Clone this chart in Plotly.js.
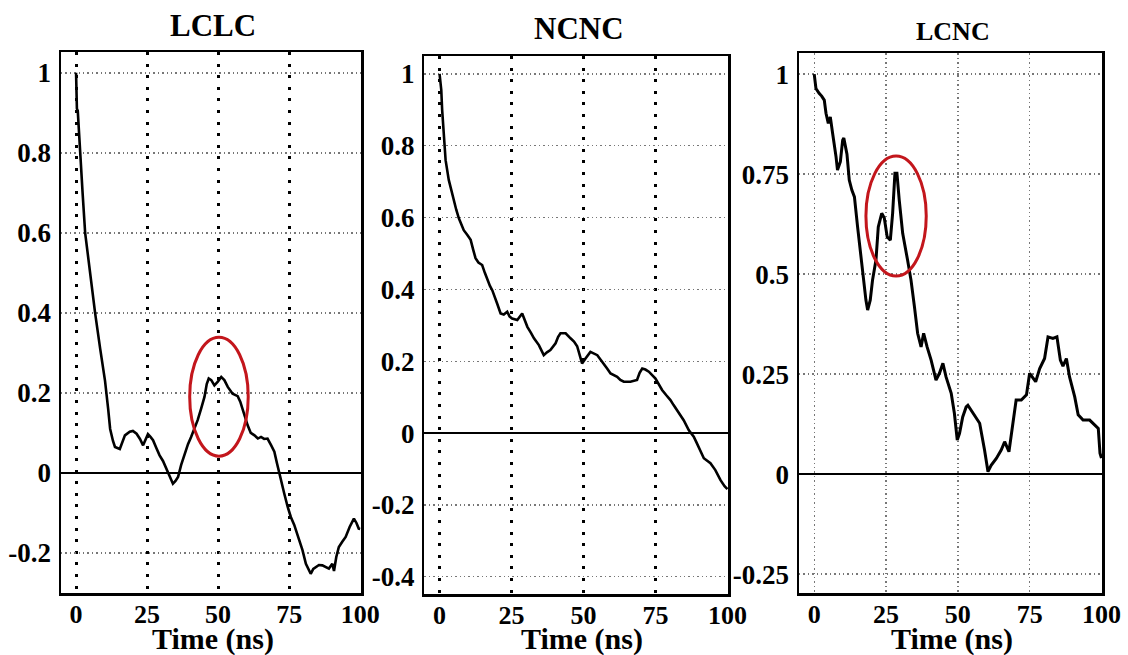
<!DOCTYPE html>
<html>
<head>
<meta charset="utf-8">
<script src="https://cdn.plot.ly/plotly-3.0.1.min.js"></script>
<style>
  html, body { margin: 0; padding: 0; background: #ffffff; }
  #chart { width: 1128px; height: 655px; }
</style>
</head>
<body>
<div id="chart"></div>
<script>
// ---------- data ----------
const panelTitles = ["LCLC", "NCNC", "LCNC"];
const xAxisTitle = "Time (ns)";

const xTickVals = [0, 25, 50, 75, 100];
const xTickText = ["0", "25", "50", "75", "100"];

const yTickVals1 = [1, 0.8, 0.6, 0.4, 0.2, 0, -0.2];
const yTickText1 = ["1", "0.8", "0.6", "0.4", "0.2", "0", "-0.2"];
const yTickVals2 = [1, 0.8, 0.6, 0.4, 0.2, 0, -0.2, -0.4];
const yTickText2 = ["1", "0.8", "0.6", "0.4", "0.2", "0", "-0.2", "-0.4"];
const yTickVals3 = [1, 0.75, 0.5, 0.25, 0, -0.25];
const yTickText3 = ["1", "0.75", "0.5", "0.25", "0", "-0.25"];

const lclcTime = [0, 0.3, 0.6, 1.4, 2.3, 3.2, 4.9, 6.7, 8.5, 10.2, 11.3, 12.0, 13.0, 13.7, 15.4, 16.3, 17.2, 18.9, 20.0, 21.3,
  22.5, 23.6, 24.5, 25.3, 26.2, 27.1, 28.3, 29.4, 30.6, 31.8, 33.0, 34.1, 35.0, 35.9, 37.0, 38.3, 39.4, 40.5, 41.7, 42.8,
  44.0, 45.2, 46.0, 46.7, 47.6, 48.7, 49.9, 51.1, 52.2, 53.4, 55.1, 56.9, 57.8, 58.7, 60.4, 61.5, 62.8, 64.0, 65.1, 66.2,
  67.4, 68.6, 69.8, 70.7, 71.5, 72.4, 73.3, 74.5, 75.6, 76.8, 77.9, 78.8, 79.7, 80.9, 81.7, 82.6, 83.5, 84.4, 85.5, 86.7,
  88.0, 89.0, 90.2, 90.8, 91.6, 92.5, 93.7, 94.9, 96.3, 97.8, 98.7, 99.5, 100];
const lclcValue = [1.0, 0.91, 0.905, 0.80, 0.70, 0.60, 0.50, 0.40, 0.31, 0.23, 0.16, 0.11, 0.08, 0.065, 0.06, 0.08, 0.094, 0.103, 0.105, 0.098,
  0.085, 0.069, 0.085, 0.097, 0.09, 0.082, 0.062, 0.044, 0.03, 0.011, -0.012, -0.027, -0.02, -0.01, 0.02, 0.049, 0.072, 0.09, 0.11, 0.132,
  0.16, 0.19, 0.222, 0.236, 0.232, 0.219, 0.228, 0.24, 0.232, 0.215, 0.198, 0.192, 0.178, 0.157, 0.119, 0.10, 0.094, 0.086, 0.09, 0.085,
  0.086, 0.07, 0.053, 0.025, 0.0, -0.028, -0.052, -0.085, -0.11, -0.13, -0.152, -0.175, -0.193, -0.227, -0.24, -0.252, -0.24, -0.235, -0.23, -0.231,
  -0.236, -0.239, -0.227, -0.245, -0.21, -0.185, -0.172, -0.16, -0.135, -0.114, -0.125, -0.139, -0.14];

const ncncTime = [0, 0.3, 0.6, 0.9, 1.1, 1.5, 2.1, 3.2, 4.1, 5.0, 5.8, 6.7, 7.5, 8.4, 9.6, 10.8, 11.7, 12.5, 13.5, 14.8,
  15.7, 16.6, 17.5, 18.3, 19.2, 20.0, 21.2, 22.3, 23.5, 24.3, 25.2, 27.0, 28.7, 29.5, 30.5, 31.7, 32.8, 34.5, 35.3, 36.2,
  37.3, 38.5, 40.3, 41.2, 42.0, 43.8, 45.5, 46.7, 47.8, 48.7, 49.5, 50.7, 52.4, 54.8, 56.0, 57.1, 58.2, 59.4, 61.7, 62.8,
  64.0, 66.3, 68.6, 69.5, 70.4, 71.5, 72.7, 75.0, 76.2, 77.3, 78.7, 80.2, 81.3, 82.5, 83.6, 84.8, 86.6, 88.3, 89.2, 90.0,
  91.8, 94.1, 95.8, 97.6, 99.0, 100];
const ncncValue = [1.0, 0.98, 0.955, 0.90, 0.872, 0.825, 0.76, 0.705, 0.675, 0.649, 0.622, 0.598, 0.58, 0.565, 0.552, 0.538, 0.51, 0.487, 0.475, 0.468,
  0.447, 0.426, 0.41, 0.398, 0.38, 0.361, 0.333, 0.33, 0.338, 0.325, 0.319, 0.315, 0.333, 0.315, 0.296, 0.28, 0.264, 0.245, 0.23, 0.217,
  0.225, 0.231, 0.25, 0.268, 0.278, 0.278, 0.264, 0.255, 0.242, 0.215, 0.194, 0.208, 0.226, 0.217, 0.205, 0.194, 0.18, 0.166, 0.157, 0.148,
  0.143, 0.143, 0.148, 0.168, 0.18, 0.177, 0.171, 0.152, 0.136, 0.12, 0.106, 0.092, 0.078, 0.064, 0.05, 0.036, 0.008, -0.01, -0.025, -0.038,
  -0.07, -0.084, -0.103, -0.131, -0.148, -0.156];

const lcncTime = [0, 0.6, 1.7, 2.6, 3.5, 4.1, 4.9, 5.6, 6.4, 7.0, 7.6, 8.1, 9.1, 9.9, 10.3, 11.4, 12.2, 13.1, 14.0, 15.1,
  16.3, 17.4, 18.0, 18.6, 19.5, 20.3, 21.5, 22.3, 23.5, 24.4, 25.4, 26.5, 27.3, 28.1, 28.8, 29.6, 30.8, 32.5, 33.7, 34.9,
  36.0, 37.2, 38.1, 39.3, 40.7, 42.4, 43.6, 44.8, 45.9, 47.7, 48.8, 49.8, 50.6, 51.7, 52.9, 53.5, 55.2, 57.6, 59.3, 60.5,
  61.6, 63.4, 65.1, 66.3, 67.8, 69.2, 70.3, 72.1, 73.9, 75.0, 77.1, 78.5, 80.2, 81.4, 83.1, 84.5, 85.7, 86.6, 87.8, 88.9,
  90.7, 91.9, 93.6, 95.9, 97.7, 98.9, 99.5, 100];
const lcncValue = [1.0, 0.964, 0.952, 0.945, 0.935, 0.902, 0.877, 0.893, 0.852, 0.825, 0.793, 0.76, 0.781, 0.835, 0.84, 0.80, 0.735, 0.71, 0.693, 0.618,
  0.535, 0.46, 0.435, 0.41, 0.435, 0.485, 0.535, 0.618, 0.652, 0.64, 0.593, 0.585, 0.652, 0.752, 0.752, 0.685, 0.602, 0.535, 0.485, 0.418,
  0.352, 0.318, 0.352, 0.318, 0.285, 0.235, 0.252, 0.277, 0.243, 0.202, 0.152, 0.085, 0.102, 0.143, 0.168, 0.172, 0.152, 0.127, 0.06, 0.006,
  0.022, 0.039, 0.06, 0.081, 0.056, 0.135, 0.185, 0.185, 0.198, 0.252, 0.231, 0.264, 0.289, 0.343, 0.339, 0.343, 0.285, 0.27, 0.289, 0.243,
  0.193, 0.148, 0.135, 0.135, 0.123, 0.114, 0.052, 0.04];

// highlighted regions (red ellipses): [x0, x1, y0, y1] in data units
const lclcHighlight = [40.0, 60.6, 0.042, 0.339];
const lcncHighlight = [18.0, 39.0, 0.495, 0.795];

// ---------- styling ----------
const serif = "'Liberation Serif', 'Times New Roman', Times, serif";
const curveColor = "#000000";
const ringColor = "#c3161c";

function xAxis(domain, anchor, bold) {
  return {
    domain: domain, anchor: anchor, range: [-5.3, 100.3],
    tickvals: xTickVals, ticktext: xTickText, ticks: "",
    tickfont: {family: serif, size: 26, color: "#000", weight: "bold"}, ticklabelstandoff: -4,
    showgrid: true, gridcolor: bold ? "#000" : "#777",
    gridwidth: bold ? 3 : 1.4, griddash: bold ? "3px,8.6px" : "1.4px,3px",
    zeroline: false, showline: true, mirror: true, linecolor: "#000", linewidth: 2.5,
    fixedrange: true
  };
}
function yAxis(domain, anchor, range, vals, text) {
  return {
    domain: domain, anchor: anchor, range: range,
    tickvals: vals, ticktext: text, ticks: "",
    tickfont: {family: serif, size: 27, color: "#000", weight: "bold"}, ticklabelstandoff: 2,
    showgrid: true, gridcolor: "#777", gridwidth: 1.4, griddash: "1.4px,3px",
    zeroline: true, zerolinecolor: "#000", zerolinewidth: 2,
    showline: true, mirror: true, linecolor: "#000", linewidth: 2.5,
    fixedrange: true
  };
}

const traces = [
  {x: lclcTime, y: lclcValue, xaxis: "x", yaxis: "y", type: "scatter", mode: "lines",
   line: {color: curveColor, width: 2.6}, hoverinfo: "skip"},
  {x: ncncTime, y: ncncValue, xaxis: "x2", yaxis: "y2", type: "scatter", mode: "lines",
   line: {color: curveColor, width: 2.6}, hoverinfo: "skip"},
  {x: lcncTime, y: lcncValue, xaxis: "x3", yaxis: "y3", type: "scatter", mode: "lines",
   line: {color: curveColor, width: 3}, hoverinfo: "skip"}
];

const W = 1128, H = 655;
const d1x = [61 / W, 361 / W], d1y = [1 - 593 / H, 1 - 52 / H];
const d2x = [424.3 / W, 728.3 / W], d2y = [1 - 594 / H, 1 - 56 / H];
const d3x = [799 / W, 1102.3 / W], d3y = [1 - 593.3 / H, 1 - 53.3 / H];

function ring(xr, yr, h) {
  return {type: "circle", xref: xr, yref: yr, x0: h[0], x1: h[1], y0: h[2], y1: h[3],
          line: {color: ringColor, width: 3}, layer: "above"};
}
function label(text, cx, cy, size) {
  return {text: text, xref: "paper", yref: "paper", x: cx / W, y: 1 - cy / H, showarrow: false,
          xanchor: "center", yanchor: "middle", borderpad: 0,
          font: {family: serif, size: size, color: "#000", weight: "bold"}};
}

const layout = {
  width: W, height: H,
  margin: {l: 0, r: 0, t: 0, b: 0},
  paper_bgcolor: "#ffffff", plot_bgcolor: "#ffffff",
  showlegend: false,
  xaxis: xAxis(d1x, "y", true),
  yaxis: yAxis(d1y, "x", [-0.30, 1.052], yTickVals1, yTickText1),
  xaxis2: xAxis(d2x, "y2", true),
  yaxis2: yAxis(d2y, "x2", [-0.448, 1.05], yTickVals2, yTickText2),
  xaxis3: xAxis(d3x, "y3", false),
  yaxis3: yAxis(d3y, "x3", [-0.298, 1.052], yTickVals3, yTickText3),
  shapes: [ring("x", "y", lclcHighlight), ring("x3", "y3", lcncHighlight)],
  annotations: [
    label(panelTitles[0], 213, 25.5, 31),
    label(panelTitles[1], 579, 28.5, 31),
    label(panelTitles[2], 952.5, 31.5, 26),
    label(xAxisTitle, 212.5, 639, 30),
    label(xAxisTitle, 582, 639, 30),
    label(xAxisTitle, 951.5, 639, 30)
  ]
};

Plotly.newPlot("chart", traces, layout, {displayModeBar: false, staticPlot: true});
</script>
</body>
</html>
